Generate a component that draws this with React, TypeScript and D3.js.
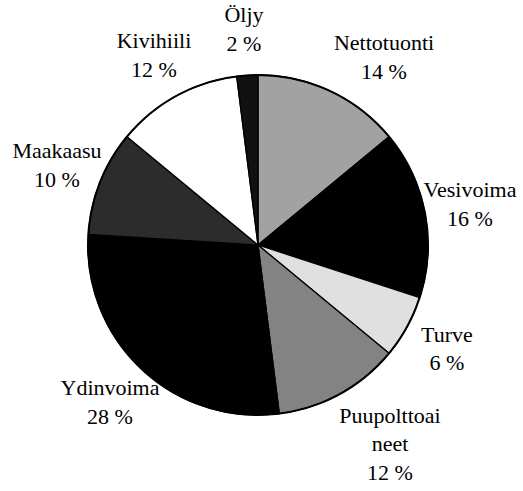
import * as d3 from 'd3';

// energy sources, clockwise from 12 o'clock
const sources = ['Nettotuonti', 'Vesivoima', 'Turve', 'Puupolttoaineet', 'Ydinvoima', 'Maakaasu', 'Kivihiili', 'Öljy'];
const shares = [14, 16, 6, 12, 28, 10, 12, 2];
const labelLines = [['Nettotuonti'], ['Vesivoima'], ['Turve'], ['Puupolttoai', 'neet'], ['Ydinvoima'], ['Maakaasu'], ['Kivihiili'], ['Öljy']];
const fills = ['#a2a2a2', '#000000', '#e0e0e0', '#838383', '#000000', '#2c2c2c', '#ffffff', '#111111'];

const WIDTH = 523;
const HEIGHT = 491;
const CX = 258;
const CY = 245;
const R = 170;
const LABEL_R = 216;
const LINE_H = 28.5;
const FONT = '"Liberation Serif", "Times New Roman", Times, serif';

// small manual nudges for labels that the original layout pushed away
const nudges: Record<string, [number, number]> = {
  Nettotuonti: [34, 8],
  Puupolttoaineet: [28, 10],
};

type Row = { name: string; value: number; lines: string[]; fill: string };

const rows: Row[] = sources.map((name, i) => ({
  name,
  value: shares[i],
  lines: labelLines[i],
  fill: fills[i],
}));

const App = () => {
  const pie = d3
    .pie<Row>()
    .sort(null)
    .value((d) => d.value)
    .startAngle(0)
    .endAngle(2 * Math.PI);

  const arcs = pie(rows);

  const arc = d3.arc<d3.PieArcDatum<Row>>().innerRadius(0).outerRadius(R);

  return (
    <svg
      width={WIDTH}
      height={HEIGHT}
      style={{ position: 'absolute', left: 0, top: 0, fontFamily: FONT }}
    >
      <style>{`text.pie-label { font-family: ${FONT} !important; font-size: 22px !important; }`}</style>
      <g transform={`translate(${CX},${CY})`}>
        {arcs.map((a) => (
          <path key={a.data.name} d={arc(a) ?? ''} fill={a.data.fill} stroke="#000" strokeWidth={1.3} strokeLinejoin="round" />
        ))}
        <circle r={R} fill="none" stroke="#000" strokeWidth={2} />
      </g>
      {arcs.map((a) => {
        const mid = (a.startAngle + a.endAngle) / 2;
        const [nx, ny] = nudges[a.data.name] ?? [0, 0];
        const x = CX + LABEL_R * Math.sin(mid) + nx;
        const y = CY - LABEL_R * Math.cos(mid) + ny;
        const lines = [...a.data.lines, `${a.data.value} %`];
        const top = y - ((lines.length - 1) * LINE_H) / 2;
        return lines.map((t, i) => (
          <text
            key={`l-${a.data.name}-${i}`}
            className="pie-label"
            x={Math.round(x)}
            y={Math.round(top + i * LINE_H + 7)}
            textAnchor="middle"
            fontFamily={FONT}
            fontSize={22}
          >
            {t}
          </text>
        ));
      })}
    </svg>
  );
};

export default App;
